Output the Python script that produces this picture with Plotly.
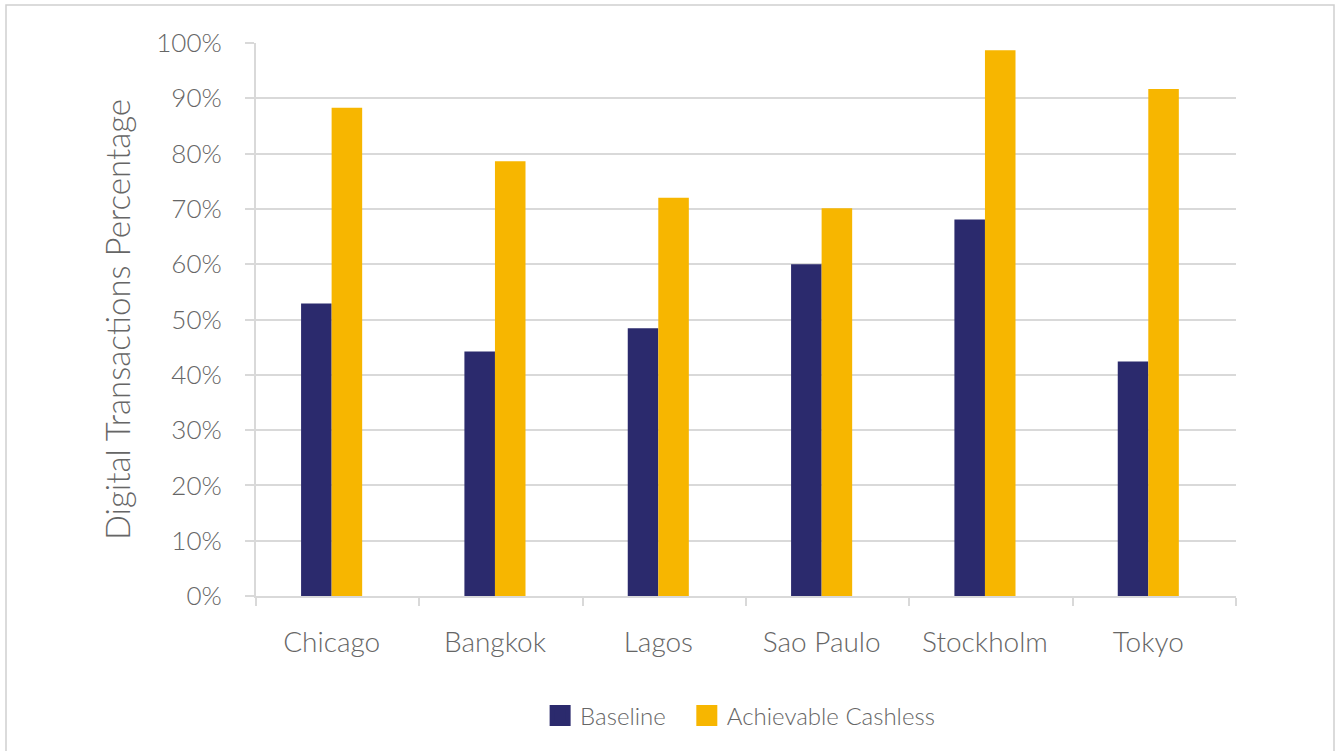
import plotly.graph_objects as go

# City categories and the two series (share of transactions that are digital, %)
cities = ["Chicago", "Bangkok", "Lagos", "Sao Paulo", "Stockholm", "Tokyo"]
baseline = [52.9, 44.2, 48.4, 60.0, 68.1, 42.4]
achievable_cashless = [88.3, 78.6, 72.0, 70.1, 98.7, 91.7]

y_ticks = [0, 10, 20, 30, 40, 50, 60, 70, 80, 90, 100]
y_tick_text = [f"{v}%" for v in y_ticks]

NAVY = "#2B2A6D"
GOLD = "#F7B600"
TEXT = "#666666"
GRID = "#D9D9D9"
FONT = "Lato"
W = 300

# Bar geometry in category units: two adjacent bars, the pair nudged slightly left
BAR_W = 0.187
NUDGE = -0.037

fig = go.Figure()

fig.add_trace(go.Bar(
    name="Baseline", x=cities, y=baseline,
    width=BAR_W, offset=-BAR_W + NUDGE,
    marker=dict(color=NAVY, line=dict(width=0)),
    showlegend=False,
))
fig.add_trace(go.Bar(
    name="Achievable Cashless", x=cities, y=achievable_cashless,
    width=BAR_W, offset=NUDGE,
    marker=dict(color=GOLD, line=dict(width=0)),
    showlegend=False,
))

# Larger square legend swatches
legend_names = ["Baseline\u00a0\u00a0\u2009", "Achievable Cashless"]
for name, color in zip(legend_names, [NAVY, GOLD]):
    fig.add_trace(go.Scatter(
        x=[None], y=[None], mode="markers", name=name,
        marker=dict(symbol="square", size=16, color=color,
                    line=dict(color=color, width=5)),
        showlegend=True,
    ))

fig.update_layout(
    width=1335, height=751,
    margin=dict(l=256, r=99, t=43, b=155),
    paper_bgcolor="white", plot_bgcolor="white",
    font=dict(family=FONT, size=26, color=TEXT, weight=W),
    barmode="overlay",
    legend=dict(
        orientation="h", x=0.494, xanchor="center", y=-0.217, yanchor="middle",
        font=dict(family=FONT, size=24, color=TEXT, weight=W),
        itemsizing="trace",
        bgcolor="rgba(0,0,0,0)",
    ),
    showlegend=True,
)

fig.update_xaxes(
    type="category",
    showline=True, linecolor=GRID, linewidth=2,
    ticks="outside", tickson="boundaries", ticklen=8, tickwidth=1.5, tickcolor=GRID,
    ticklabelstandoff=20, ticklabelshift=-6,
    tickfont=dict(family=FONT, size=28, color=TEXT, weight=W),
    showgrid=False, zeroline=False, fixedrange=True,
)

fig.update_yaxes(
    range=[0, 100],
    tickvals=y_ticks, ticktext=y_tick_text,
    showline=True, linecolor=GRID, linewidth=2,
    ticks="outside", ticklen=9, tickwidth=1.5, tickcolor=GRID,
    ticklabelstandoff=18,
    showgrid=True, gridcolor=GRID, gridwidth=1.5,
    zeroline=False,
    tickfont=dict(family=FONT, size=26, color=TEXT, weight=W),
    title=dict(text="Digital Transactions Percentage",
               font=dict(family=FONT, size=33, color=TEXT, weight=W),
               standoff=16),
    fixedrange=True,
)

# Light frame around the chart area
fig.add_shape(
    type="rect", xref="paper", yref="paper",
    x0=(6 - 256) / 980, x1=(1334 - 256) / 980,
    y0=(596 - 760) / 553, y1=(596 - 5) / 553,
    line=dict(color="#D0D0D0", width=1.5), fillcolor="rgba(0,0,0,0)",
    layer="below",
)

fig.write_html("out.html")
